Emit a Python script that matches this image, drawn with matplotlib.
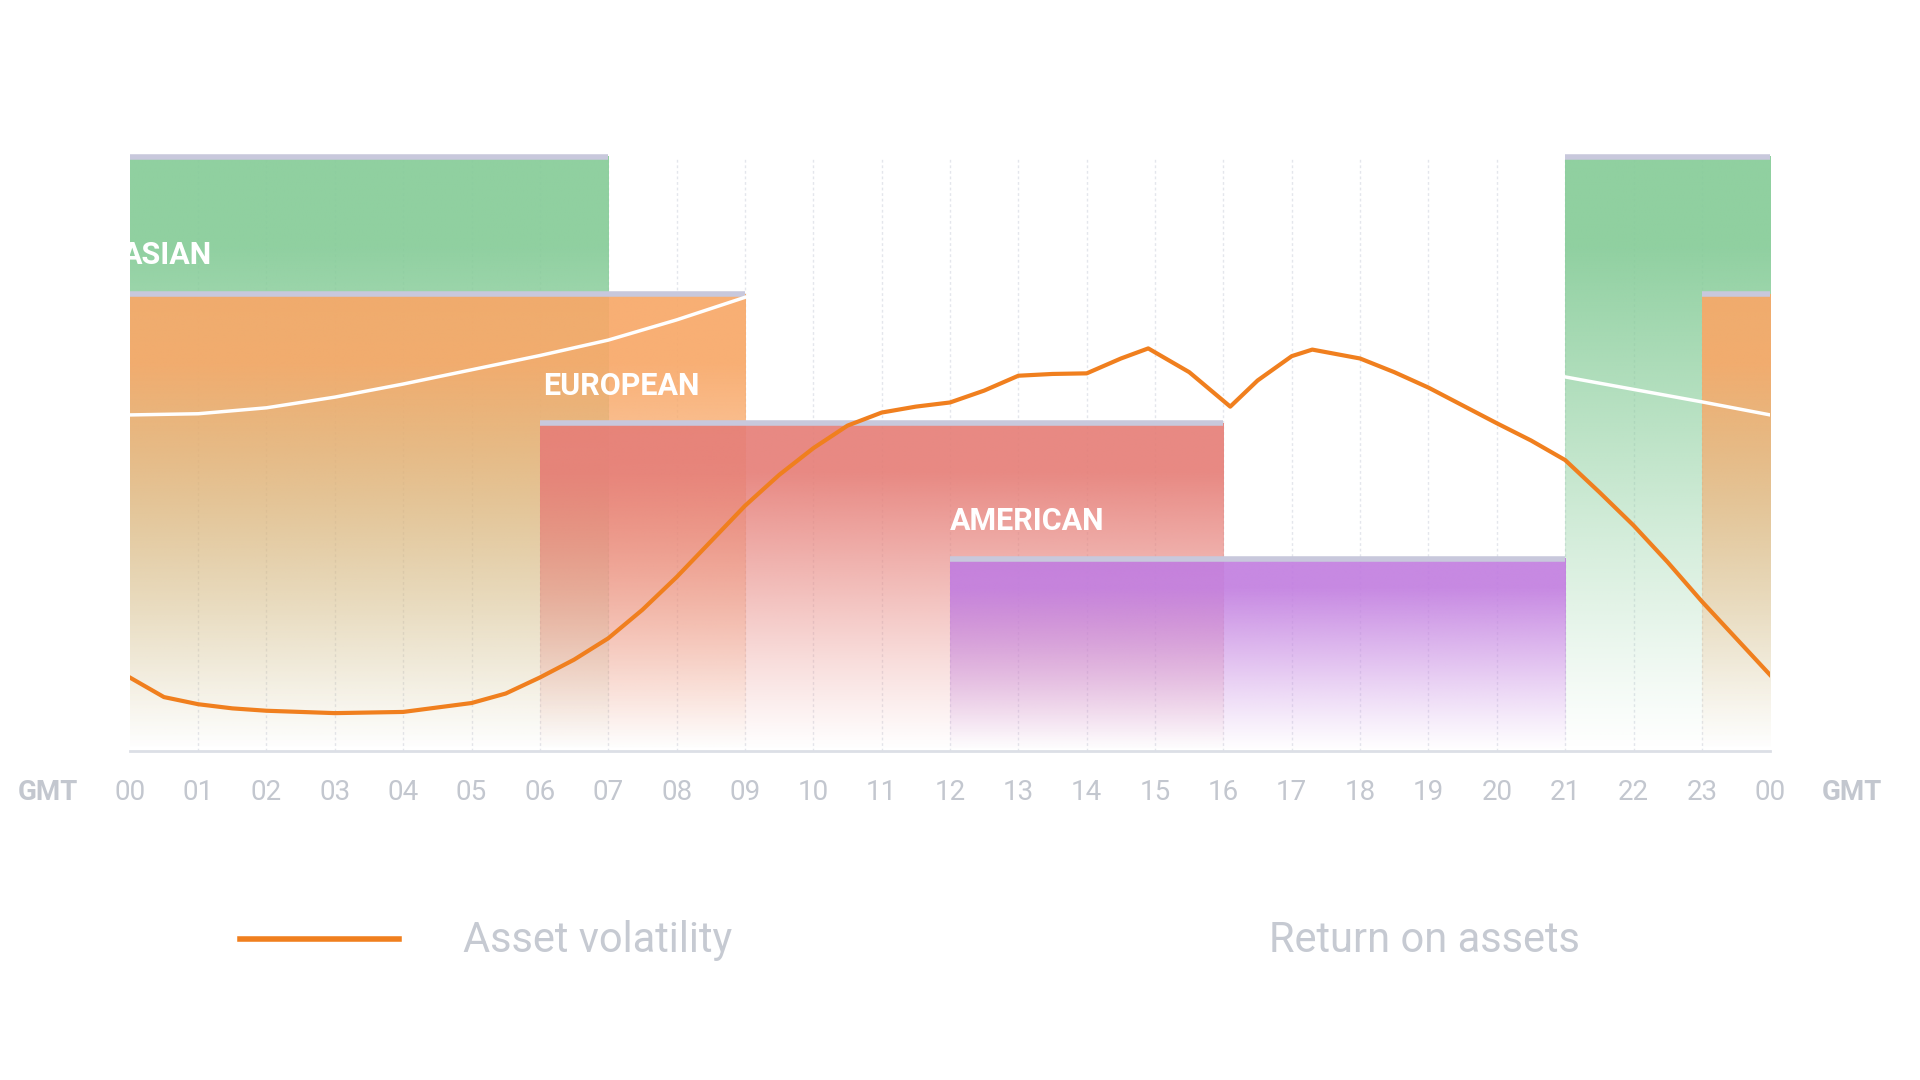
import numpy as np
import matplotlib
matplotlib.use("Agg")
import matplotlib.pyplot as plt
from matplotlib.colors import to_rgb
from matplotlib.patches import Rectangle

plt.rcParams['font.family'] = ['Roboto', 'DejaVu Sans']

hour_labels = ["00","01","02","03","04","05","06","07","08","09","10","11",
               "12","13","14","15","16","17","18","19","20","21","22","23","00"]

# sessions: (name, spans, top)
session_names = ["ASIAN", "EUROPEAN", "AMERICAN", "PACIFIC"]
session_spans = [[(0, 7), (21, 24)], [(0, 9), (23, 24)], [(6, 16)], [(12, 21)]]
session_tops = [100, 76.9, 55.2, 32.4]
session_colors = ["#86cc98", "#f8a868", "#e67f78", "#c27ee0"]

vol_x = [0, 0.5, 1, 1.5, 2, 3, 4, 5, 5.5, 6, 6.5, 7, 7.5, 8, 8.5, 9, 9.5, 10, 10.5, 11,
         11.5, 12, 12.5, 13, 13.5, 14, 14.5, 14.9, 15.5, 16.1, 16.5, 17, 17.3, 18, 18.5,
         19, 19.5, 20, 20.5, 21, 21.5, 22, 22.5, 23, 23.5, 24]
vol_y = [12.4, 9.1, 7.9, 7.2, 6.8, 6.4, 6.6, 8.1, 9.7, 12.4, 15.4, 19, 23.8, 29.3, 35.3, 41.3,
         46.5, 51, 54.8, 57, 58.0, 58.7, 60.7, 63.2, 63.5, 63.6, 66.1, 67.8, 63.8, 58.0,
         62.4, 66.5, 67.6, 66.1, 63.8, 61.2, 58.2, 55.2, 52.3, 49, 43.6, 38, 31.8, 25.2,
         19.0, 12.8]

roa_x1 = [0, 1, 2, 3, 4, 5, 6, 7, 8, 9]
roa_y1 = [56.6, 56.8, 57.8, 59.6, 61.8, 64.2, 66.6, 69.2, 72.6, 76.4]
roa_x2 = [21, 22, 23, 24]
roa_y2 = [63.0, 60.9, 58.8, 56.6]

fig = plt.figure(figsize=(19.2, 10.8), dpi=100)
ax = fig.add_axes([0.0676, 0.3045, 0.8544, 0.5775])
ax.set_xlim(0, 24)
ax.set_ylim(0, 105)
ax.axis('off')

for h in range(1, 24):
    ax.plot([h, h], [0, 100], color="#e4e6ec", lw=1, ls=(0, (2, 2)), zorder=0)

def grad_rect(x0, x1, top, color, z):
    n = 256
    t = np.linspace(0, 1, n)[:, None]  # 0 bottom .. 1 top
    rgba = np.zeros((n, 2, 4))
    rgba[..., :3] = to_rgb(color)
    rgba[..., 3] = 0.92 * np.clip(t / 0.85, 0, 1) ** 1.1 + 0.0
    ax.imshow(rgba, extent=(x0, x1, 0, top), origin='lower', aspect='auto',
              interpolation='bilinear', zorder=z)
    ax.plot([x0, x1], [top, top], color="#c8c8dc", lw=4, solid_capstyle='butt', zorder=z + 0.1)

for i, (spans, top, col) in enumerate(zip(session_spans, session_tops, session_colors)):
    for (a, b) in spans:
        grad_rect(a, b, top, col, 1 + i)

ax.set_xlim(0, 24)
ax.set_ylim(0, 105)

ax.text(-0.12, 83.5, "ASIAN", color="white", fontsize=22, fontweight='bold', va='center', zorder=10, clip_on=True)
t2 = ax.text(6.05, 61.4, "EUROPEAN", color="white", fontsize=22, fontweight='bold', va='center', zorder=10)
t2.set_clip_path(Rectangle((6, 0), 3, 100, transform=ax.transData))
ax.text(12.0, 38.8, "AMERICAN", color="white", fontsize=22, fontweight='bold', va='center', zorder=10)

ax.plot(roa_x1, roa_y1, color="white", lw=2.5, zorder=11)
ax.plot(roa_x2, roa_y2, color="white", lw=2.5, zorder=11)
ax.plot(vol_x, vol_y, color="#f07f1e", lw=3, zorder=12, solid_joinstyle='round')

ax.plot([0, 24], [0, 0], color="#dcdfe6", lw=2, zorder=0, clip_on=False)

for h, lab in enumerate(hour_labels):
    ax.text(h, -7, lab, ha='center', va='center', color="#c3c7cf", fontsize=20, clip_on=False)
ax.text(-1.2, -7, "GMT", ha='center', va='center', color="#c3c7cf", fontsize=20, fontweight='bold', clip_on=False)
ax.text(25.2, -7, "GMT", ha='center', va='center', color="#c3c7cf", fontsize=20, fontweight='bold', clip_on=False)

fig.lines.append(plt.Line2D([0.125, 0.208], [0.131, 0.131], transform=fig.transFigure, color="#f07f1e", lw=4))
fig.text(0.241, 0.129, "Asset volatility", color="#c6cad2", fontsize=30, va='center')
fig.text(0.661, 0.129, "Return on assets", color="#c6cad2", fontsize=30, va='center')

fig.savefig("out.png", dpi=100, facecolor="white")
